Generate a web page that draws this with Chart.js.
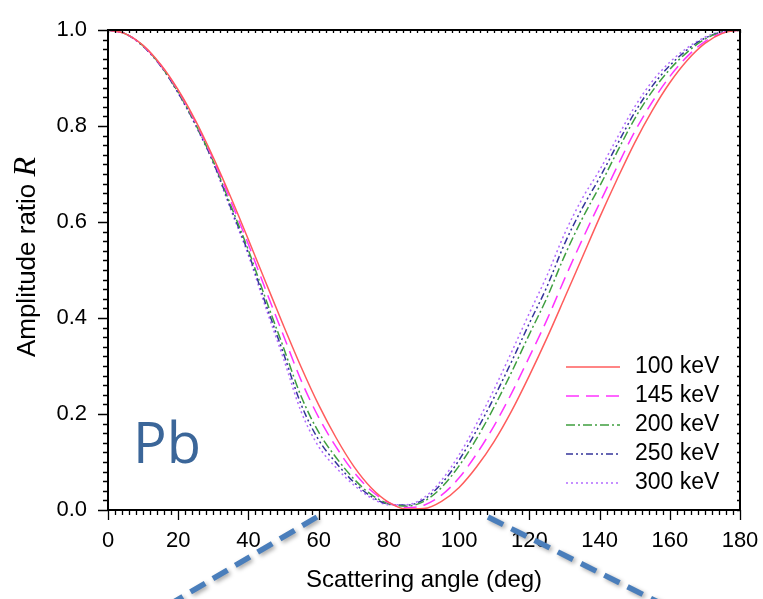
<!DOCTYPE html>
<html>
<head>
<meta charset="utf-8">
<script src="https://cdn.jsdelivr.net/npm/chart.js@4.4.1/dist/chart.umd.min.js"></script>
<style>
  html, body { margin: 0; padding: 0; background: #fff; }
</style>
</head>
<body>
<canvas id="myChart" width="763" height="599"></canvas>
<script>
// scattering angle (deg)
const angles = [0, 5, 10, 15, 20, 25, 30, 35, 40, 45, 50, 55, 60, 65, 70, 75, 80, 85, 90,
  95, 100, 105, 110, 115, 120, 125, 130, 135, 140, 145, 150, 155, 160, 165, 170, 175, 180];

// amplitude ratio R
const r100 = [1, 0.992, 0.968, 0.928, 0.875, 0.810, 0.734, 0.651, 0.563, 0.473, 0.384, 0.298, 0.219,
  0.150, 0.091, 0.046, 0.016, 0.002, 0.003, 0.018, 0.047, 0.090, 0.143, 0.207, 0.280, 0.358, 0.441,
  0.525, 0.609, 0.689, 0.765, 0.832, 0.890, 0.937, 0.972, 0.993, 1];
const r145 = [1, 0.992, 0.967, 0.927, 0.873, 0.807, 0.730, 0.643, 0.553, 0.457, 0.363, 0.270, 0.193,
  0.131, 0.079, 0.040, 0.015, 0.005, 0.010, 0.031, 0.067, 0.117, 0.176, 0.244, 0.319, 0.396, 0.481,
  0.562, 0.639, 0.715, 0.788, 0.850, 0.903, 0.945, 0.976, 0.994, 1];
const r200 = [1, 0.992, 0.967, 0.926, 0.870, 0.803, 0.726, 0.634, 0.541, 0.438, 0.338, 0.237, 0.162,
  0.109, 0.065, 0.032, 0.013, 0.008, 0.018, 0.047, 0.092, 0.149, 0.215, 0.288, 0.366, 0.442, 0.529,
  0.606, 0.674, 0.746, 0.815, 0.872, 0.918, 0.954, 0.981, 0.996, 1];
const r250 = [1, 0.992, 0.966, 0.925, 0.869, 0.802, 0.724, 0.629, 0.535, 0.428, 0.326, 0.220, 0.146,
  0.098, 0.058, 0.028, 0.012, 0.010, 0.022, 0.055, 0.104, 0.166, 0.235, 0.310, 0.389, 0.465, 0.554,
  0.628, 0.692, 0.761, 0.828, 0.883, 0.926, 0.959, 0.983, 0.996, 1];
const r300 = [1, 0.992, 0.966, 0.925, 0.868, 0.800, 0.722, 0.625, 0.530, 0.420, 0.315, 0.205, 0.132,
  0.088, 0.052, 0.025, 0.011, 0.011, 0.026, 0.062, 0.115, 0.180, 0.252, 0.330, 0.410, 0.488, 0.575,
  0.648, 0.708, 0.775, 0.840, 0.893, 0.933, 0.963, 0.985, 0.997, 1];

const seriesLabels = ['100 keV', '145 keV', '200 keV', '250 keV', '300 keV'];
const xTickLabels = [0, 20, 40, 60, 80, 100, 120, 140, 160, 180];
const yTickLabels = [0.0, 0.2, 0.4, 0.6, 0.8, 1.0];

const seriesValues = [r100, r145, r200, r250, r300];
const colors = ['#ff5c5c', '#ff33ff', '#3f9f3f', '#35359a', '#b36bff'];
const dashes = [[], [13, 7], [9, 3, 2, 3], [7, 3, 2, 3, 2, 3], [2, 3]];

const FONT = '"Liberation Sans", Arial, sans-serif';

// frame, minor ticks, legend and the slide annotations
const decor = {
  id: 'decor',
  afterDraw(chart) {
    const { ctx, chartArea: a, scales: { x, y } } = chart;
    ctx.save();
    ctx.strokeStyle = '#000';
    ctx.lineWidth = 1.3;
    ctx.beginPath();
    for (let v = 0; v <= 180; v += 2) {
      const px = Math.round(x.getPixelForValue(v)) + 0.5;
      const len = v % 20 === 0 ? 10 : 5;
      ctx.moveTo(px, a.bottom); ctx.lineTo(px, a.bottom + len);
      ctx.moveTo(px, a.top); ctx.lineTo(px, a.top + 3);
    }
    for (let i = 0; i <= 50; i++) {
      const py = Math.round(y.getPixelForValue(i / 50)) + 0.5;
      const len = i % 10 === 0 ? 10 : 5;
      ctx.moveTo(a.left, py); ctx.lineTo(a.left - len, py);
      ctx.moveTo(a.right, py); ctx.lineTo(a.right - 3, py);
    }
    ctx.stroke();
    ctx.lineWidth = 2;
    ctx.strokeRect(a.left, a.top, a.right - a.left, a.bottom - a.top);

    // legend
    ctx.font = '23px ' + FONT;
    ctx.textBaseline = 'middle';
    ctx.textAlign = 'left';
    chart.data.datasets.forEach((ds, i) => {
      const ly = 367 + i * 29;
      ctx.beginPath();
      ctx.setLineDash(ds.borderDash || []);
      ctx.strokeStyle = ds.borderColor;
      ctx.lineWidth = 1.5;
      ctx.moveTo(566, ly); ctx.lineTo(620, ly);
      ctx.stroke();
      ctx.setLineDash([]);
      ctx.fillStyle = '#000';
      ctx.fillText(ds.label, 635, ly);
    });

    // y title with italic R
    ctx.save();
    ctx.translate(26, 257);
    ctx.rotate(-Math.PI / 2);
    const t1 = 'Amplitude ratio ';
    ctx.font = '26px ' + FONT;
    const w1 = ctx.measureText(t1).width;
    ctx.font = 'italic 32px "Liberation Serif", "Times New Roman", serif';
    const w2 = ctx.measureText('R').width;
    const sx = -(w1 + w2) / 2;
    ctx.fillStyle = '#000';
    ctx.textBaseline = 'alphabetic';
    ctx.font = '26px ' + FONT;
    ctx.fillText(t1, sx, 9);
    ctx.font = 'italic 32px "Liberation Serif", "Times New Roman", serif';
    ctx.fillText('R', sx + w1, 9);
    ctx.restore();

    // element label
    ctx.fillStyle = '#3b6699';
    ctx.font = '56px "Open Sans", "Noto Sans", sans-serif';
    ctx.textBaseline = 'alphabetic';
    ctx.fillText('Pb', 133, 463);

    // callout lines
    ctx.strokeStyle = '#4a7ebb';
    ctx.lineWidth = 5.5;
    ctx.setLineDash([17, 9]);
    ctx.shadowColor = 'rgba(0,0,0,0.35)';
    ctx.shadowBlur = 4;
    ctx.shadowOffsetX = 2;
    ctx.shadowOffsetY = 2;
    ctx.beginPath();
    ctx.moveTo(317, 517); ctx.lineTo(172, 603);
    ctx.moveTo(488, 517); ctx.lineTo(660, 603);
    ctx.stroke();
    ctx.restore();
  }
};

const data = {
  datasets: seriesLabels.map((lab, i) => ({
    label: lab,
    data: angles.map((a, j) => ({ x: a, y: seriesValues[i][j] })),
    borderColor: colors[i],
    borderDash: dashes[i],
    borderWidth: 1.5,
    pointRadius: 0,
    fill: false,
    cubicInterpolationMode: 'monotone'
  }))
};

const config = {
  type: 'line',
  data,
  options: {
    responsive: false,
    animation: false,
    layout: { padding: { top: 30, right: 23, left: 0, bottom: 0 } },
    scales: {
      x: {
        type: 'linear',
        min: 0,
        max: 180,
        afterFit: s => { s.height = 89; s.paddingLeft = 0; s.paddingRight = 0; },
        afterBuildTicks: s => { s.ticks = xTickLabels.map(v => ({ value: v })); },
        grid: { display: false },
        border: { display: true, color: '#000', width: 2 },
        ticks: { padding: 10, color: '#000', font: { family: FONT, size: 22 }, autoSkip: false, maxRotation: 0 },
        title: { display: true, text: 'Scattering angle (deg)', color: '#000', font: { family: FONT, size: 24 }, padding: { top: 4, bottom: 4 } }
      },
      y: {
        min: 0,
        max: 1,
        afterFit: s => { s.width = 108; s.paddingTop = 0; s.paddingBottom = 0; },
        afterBuildTicks: s => { s.ticks = yTickLabels.map(v => ({ value: v })); },
        grid: { display: false },
        border: { display: true, color: '#000', width: 2 },
        ticks: { padding: 13, color: '#000', font: { family: FONT, size: 22 }, callback: v => v.toFixed(1) }
      }
    },
    plugins: {
      legend: { display: false },
      tooltip: { enabled: false }
    }
  },
  plugins: [decor]
};

const myChart = new Chart(document.getElementById('myChart'), config);
</script>
</body>
</html>
